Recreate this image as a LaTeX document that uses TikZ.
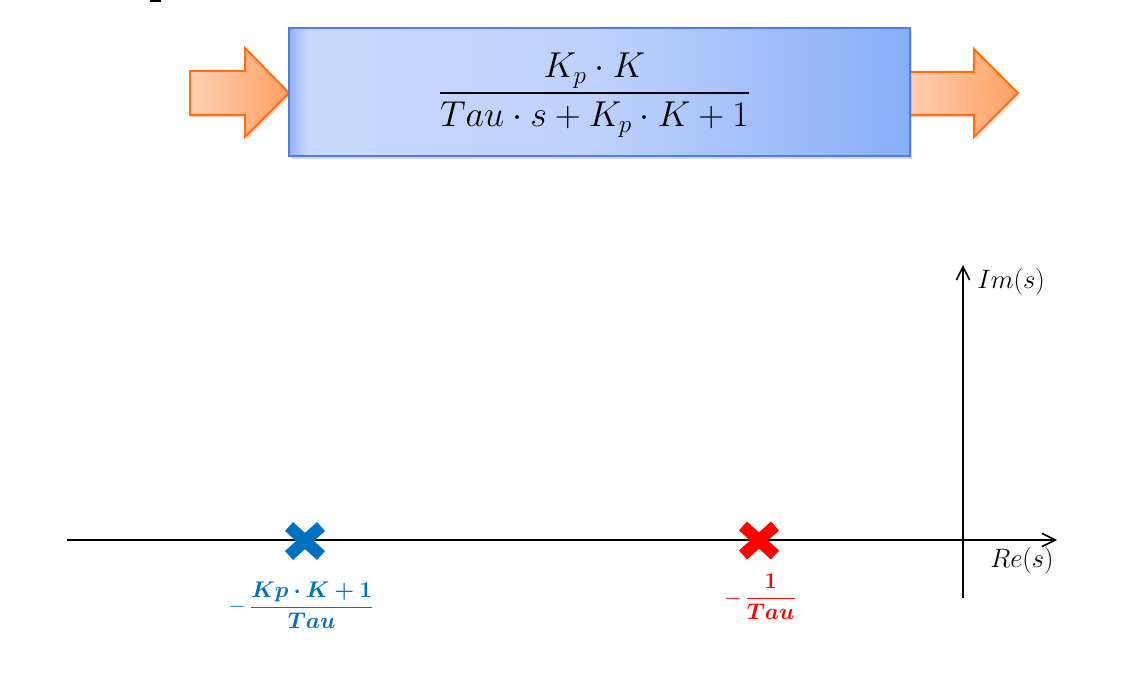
\RequirePackage{fix-cm}
\documentclass[tikz,border=0pt]{standalone}
\usepackage{amsmath,bm}
\usetikzlibrary{arrows.meta,shadows,calc}
\definecolor{boxedge}{HTML}{4E7FDB}
\definecolor{bA}{HTML}{92B2F8}
\definecolor{bB}{HTML}{C9D9FD}
\definecolor{bC}{HTML}{BED1FC}
\definecolor{bD}{HTML}{88AEF9}
\definecolor{arrL}{HTML}{FFD0B4}
\definecolor{arrR}{HTML}{FFA062}
\definecolor{arrEdge}{HTML}{FF6E10}
\definecolor{poleblue}{HTML}{0070C0}
\definecolor{polered}{HTML}{FF0000}
\pgfdeclarehorizontalshading{boxshade}{100bp}{color(0bp)=(bA); color(25bp)=(bA); color(26.5bp)=(bB); color(50bp)=(bC); color(75bp)=(bD); color(100bp)=(bD)}
\tikzset{
  blockarrow/.style={draw=arrEdge, line width=1.5pt, line join=miter, left color=arrL, right color=arrR,
     drop shadow={opacity=0.25, shadow xshift=1.5pt, shadow yshift=-2pt}},
  tfbox/.style={draw=boxedge, line width=1.5pt, shading=boxshade, minimum width=465.75pt, minimum height=96pt, inner sep=0pt,
     drop shadow={opacity=0.3, shadow xshift=1.5pt, shadow yshift=-2.5pt}},
  axisline/.style={line width=1.5pt, -{Straight Barb[length=10pt,width=10pt,line width=1.2pt]}},
  polemark/.style={line width=9pt},
  axlabel/.style={font=\fontsize{20}{24}\selectfont, inner sep=0pt},
  polelabel/.style={font=\fontsize{17}{20}\selectfont, inner sep=0pt}
}
\begin{document}
\begin{tikzpicture}[x=0.75pt,y=-0.75pt]
\useasboundingbox (0,0) rectangle (1121,685);
% small mark at top
\fill (150,0) rectangle (161,2.5);
% block arrows
\path[blockarrow] (190,71) -- (245,71) -- (245,48) -- (289,93) -- (245,137) -- (245,115) -- (190,115) -- cycle;
\path[blockarrow] (905,72) -- (974,72) -- (974,49) -- (1018,93) -- (974,137) -- (974,115) -- (905,115) -- cycle;
% transfer function box
\node[tfbox] (tf) at (599.5,92) {};
\node[inner sep=0pt, font=\fontsize{27}{32}\selectfont] (tfx) at (594.5,95) {$\dfrac{K_p\cdot K}{Tau\cdot s+K_p\cdot K+1}$};
% axes
\coordinate (xs) at (67,540);
\coordinate (xe) at (1057,540);
\coordinate (ys) at (963,598);
\coordinate (ye) at (963,265);
\draw[axisline] (xs) -- (xe);
\draw[axisline] (ys) -- (ye);
\node[axlabel, anchor=west] (im) at (977,282) {$Im(s)$};
\node[axlabel, anchor=west] (re) at (990,561) {$Re(s)$};
% poles
\coordinate (p1) at (305,541);
\coordinate (p2) at (759,540.5);
\draw[polemark, poleblue] ($(p1)+(-16,-14.5)$) -- ($(p1)+(16,14.5)$);
\draw[polemark, poleblue] ($(p1)+(-16,14.5)$) -- ($(p1)+(16,-14.5)$);
\draw[polemark, polered] ($(p2)+(-16,-14.5)$) -- ($(p2)+(16,14.5)$);
\draw[polemark, polered] ($(p2)+(-16,14.5)$) -- ($(p2)+(16,-14.5)$);
\node[polelabel, text=poleblue] (l1) at (301,605) {$-\,\dfrac{\bm{Kp\cdot K+1}}{\bm{Tau}}$};
\node[polelabel, text=polered] (l2) at (760,597) {$-\,\dfrac{\bm{1}}{\bm{Tau}}$};
\end{tikzpicture}
\end{document}
